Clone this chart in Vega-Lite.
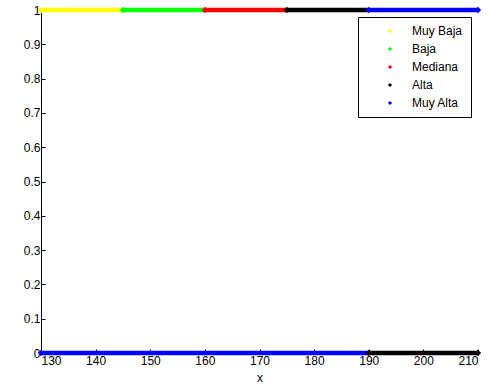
{
  "$schema": "https://vega.github.io/schema/vega-lite/v6.json",
  "width": 437,
  "height": 343,
  "autosize": {"type": "none"},
  "padding": {"left": 41, "top": 10, "right": 10, "bottom": 35},
  "background": "white",
  "config": {
    "view": {"stroke": null},
    "font": "Liberation Sans",
    "axis": {
      "domainColor": "black",
      "domainWidth": 1,
      "tickColor": "black",
      "tickSize": -4,
      "grid": false,
      "labelColor": "black",
      "labelFontSize": 12,
      "labelFont": "Liberation Sans",
      "titleFont": "Liberation Sans",
      "titleFontSize": 12,
      "titleFontWeight": "normal",
      "titleColor": "black"
    }
  },
  "data": {
    "values": [
      {"clase": "Muy Baja", "x1": 130, "x2": 145, "y": 1},
      {"clase": "Baja", "x1": 145, "x2": 160, "y": 1},
      {"clase": "Mediana", "x1": 160, "x2": 175, "y": 1},
      {"clase": "Alta", "x1": 175, "x2": 190, "y": 1},
      {"clase": "Muy Alta", "x1": 190, "x2": 210, "y": 1},
      {"clase": "Muy Alta", "x1": 130, "x2": 190, "y": 0},
      {"clase": "Alta", "x1": 190, "x2": 210, "y": 0}
    ]
  },
  "encoding": {
    "y": {
      "field": "y",
      "type": "quantitative",
      "scale": {"domain": [0, 1], "nice": false, "zero": false},
      "axis": {"values": [0, 0.1, 0.2, 0.3, 0.4, 0.5, 0.6, 0.7, 0.8, 0.9, 1], "format": ".1~f", "title": null, "labelPadding": 5}
    },
    "color": {
      "field": "clase",
      "type": "nominal",
      "scale": {
        "domain": ["Muy Baja", "Baja", "Mediana", "Alta", "Muy Alta"],
        "range": ["#ffff00", "#00ff00", "#ff0000", "#000000", "#0000ff"]
      },
      "legend": {
        "title": null,
        "orient": "none",
        "legendX": 317,
        "legendY": 7,
        "strokeColor": "black",
        "fillColor": "white",
        "padding": 8,
        "symbolType": "diamond",
        "symbolSize": 18,
        "symbolStrokeWidth": 0,
        "symbolOffset": 18,
        "labelOffset": 16,
        "labelFontSize": 12,
        "labelColor": "black",
        "labelFont": "Liberation Sans",
        "rowPadding": 6
      }
    }
  },
  "layer": [
    {
      "mark": {"type": "rule", "strokeWidth": 4.5},
      "encoding": {
        "x": {
          "field": "x1",
          "type": "quantitative",
          "scale": {"domain": [130, 210], "nice": false, "zero": false},
          "axis": {"values": [130, 140, 150, 160, 170, 180, 190, 200, 210], "title": "x", "labelPadding": 6, "titlePadding": 6}
        },
        "x2": {"field": "x2"}
      }
    },
    {
      "mark": {"type": "point", "shape": "diamond", "filled": true, "size": 40, "opacity": 1},
      "encoding": {"x": {"field": "x1", "type": "quantitative"}}
    },
    {
      "transform": [{"filter": "datum.x2 == 210"}],
      "mark": {"type": "point", "shape": "diamond", "filled": true, "size": 40, "opacity": 1},
      "encoding": {"x": {"field": "x2", "type": "quantitative"}}
    }
  ]
}
